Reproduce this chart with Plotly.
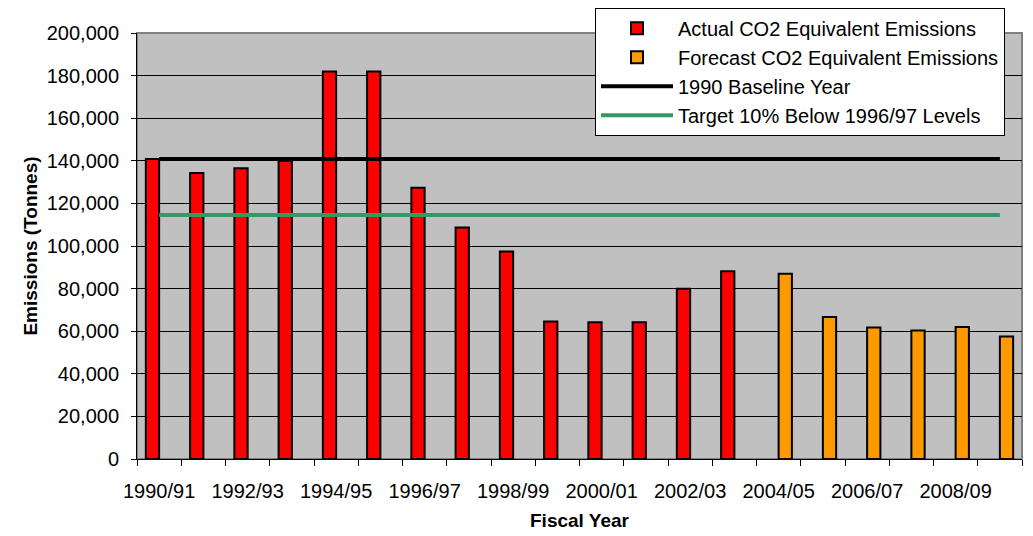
import plotly.graph_objects as go

categories = ["1990/91", "1991/92", "1992/93", "1993/94", "1994/95", "1995/96",
              "1996/97", "1997/98", "1998/99", "1999/00", "2000/01", "2001/02",
              "2002/03", "2003/04", "2004/05", "2005/06", "2006/07", "2007/08",
              "2008/09", "2009/10"]

actual_years = categories[:14]
actual_values = [140900, 134300, 136500, 140000, 181900, 181900, 127300,
                 108700, 97400, 64600, 64200, 64200, 79900, 88200]

forecast_years = categories[14:]
forecast_values = [87000, 66700, 61700, 60300, 62000, 57500]

baseline_value = 140900
target_value = 114600

tick_labels = [c if i % 2 == 0 else "" for i, c in enumerate(categories)]

FONT = "Liberation Sans, Arial, sans-serif"

fig = go.Figure()
fig.add_trace(go.Bar(
    x=actual_years, y=actual_values, name="Actual CO2 Equivalent Emissions",
    width=0.3, offset=-0.3,
    marker=dict(color="#FF0000", line=dict(color="#000000", width=2)),
))
fig.add_trace(go.Bar(
    x=forecast_years, y=forecast_values, name="Forecast CO2 Equivalent Emissions",
    width=0.3, offset=0,
    marker=dict(color="#FF9900", line=dict(color="#000000", width=2)),
))
fig.add_trace(go.Scatter(
    x=[categories[0], categories[-1]], y=[baseline_value, baseline_value],
    mode="lines", name="1990 Baseline Year",
    line=dict(color="#000000", width=4),
))
fig.add_trace(go.Scatter(
    x=[categories[0], categories[-1]], y=[target_value, target_value],
    mode="lines", name="Target 10% Below 1996/97 Levels",
    line=dict(color="#339966", width=4),
))

fig.update_layout(
    width=1025, height=528,
    margin=dict(l=129, r=11, t=25, b=77, autoexpand=False),
    paper_bgcolor="#FFFFFF",
    plot_bgcolor="#C0C0C0",
    barmode="overlay",
    font=dict(family=FONT, size=20, color="#000000"),
    showlegend=True,
    legend=dict(
        x=0.5175, y=1.059, xanchor="left", yanchor="top",
        bgcolor="#FFFFFF", bordercolor="#000000", borderwidth=1,
        font=dict(family=FONT, size=20, color="#000000"),
        itemwidth=72, tracegroupgap=0,
        entrywidth=430, entrywidthmode="pixels",
    ),
    shapes=[dict(type="rect", xref="paper", yref="paper", x0=0, x1=1, y0=0, y1=1,
                 line=dict(color="#808080", width=2), layer="below")],
)

fig.update_xaxes(
    type="category", categoryorder="array", categoryarray=categories,
    tickmode="array", tickvals=categories, ticktext=tick_labels,
    tickson="boundaries", ticks="outside", ticklen=6, tickcolor="#000000",
    tickangle=0, automargin=False,
    showline=True, linecolor="#000000", linewidth=1,
    showgrid=False, ticklabelstandoff=14,
    title=dict(text="<b>Fiscal Year</b>", font=dict(size=19), standoff=12),
    range=[-0.5, 19.5],
)
fig.update_yaxes(
    range=[0, 200000], dtick=20000, tick0=0, tickformat=",d",
    ticks="outside", ticklen=5, tickcolor="#000000", automargin=False,
    showline=True, linecolor="#000000", linewidth=1,
    showgrid=True, gridcolor="#000000", gridwidth=1,
    zeroline=False, ticklabelstandoff=8,
    title=dict(text="<b>Emissions (Tonnes)</b>", font=dict(size=19), standoff=4),
)

fig.write_html("out.html")
